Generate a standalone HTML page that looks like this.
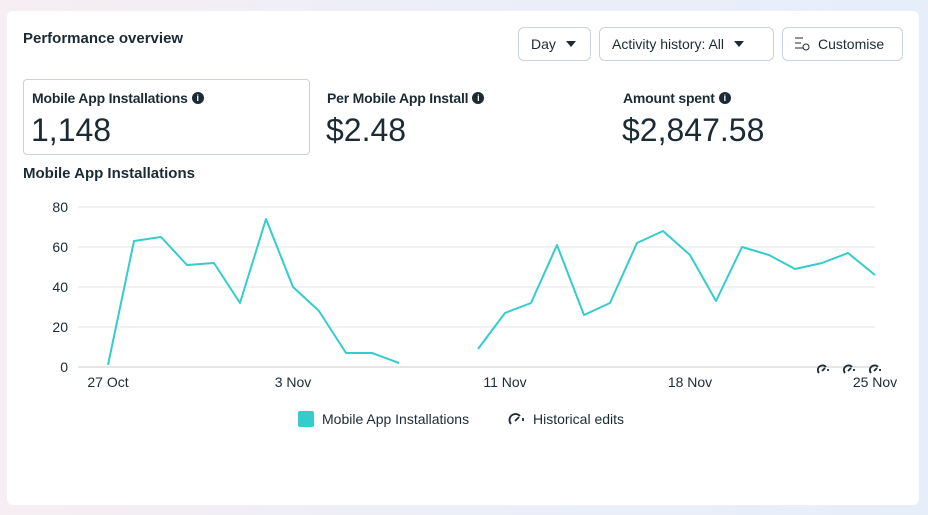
<!DOCTYPE html>
<html><head><meta charset="utf-8"><style>
body{margin:0;width:928px;height:515px;background:linear-gradient(90deg,#f6eef2,#eceef8 50%,#e6eefa);font-family:"Liberation Sans",sans-serif;color:#1c2b33;position:relative;overflow:hidden}
.card{position:absolute;left:7px;top:11px;width:912px;height:494px;background:#fff;border-radius:6px}
.t{position:absolute;font-weight:bold;font-size:15px}
.btn{position:absolute;top:27px;height:34px;border:1px solid #cbd2d9;border-radius:6px;box-sizing:border-box;font-size:14px;line-height:32px;padding:0 12px}
.tri{display:inline-block;width:0;height:0;border-left:5px solid transparent;border-right:5px solid transparent;border-top:6px solid #1c2b33;margin-left:10px;vertical-align:2px}
.lab{position:absolute;font-size:14px;font-weight:bold;letter-spacing:-0.2px}
.big{position:absolute;font-size:32px}
.i{display:inline-block;width:12px;height:12px;border-radius:50%;background:#1c2b33;color:#fff;font-size:9px;line-height:12px;text-align:center;font-weight:bold;vertical-align:middle;margin-left:4px;position:relative;top:-1px}
svg{position:absolute;left:0;top:0}
</style></head><body>
<div class="card"></div>
<div class="t" style="left:23px;top:30px">Performance overview</div>
<div class="btn" style="left:518px;width:73px">Day<span class="tri"></span></div>
<div class="btn" style="left:599px;width:175px">Activity history: All<span class="tri"></span></div>
<div class="btn" style="left:782px;width:121px;padding-left:35px">Customise</div>
<div style="position:absolute;left:23px;top:79px;width:287px;height:76px;border:1px solid #cbd2d9;border-radius:4px;box-sizing:border-box"></div>
<div class="lab" style="left:32px;top:90px">Mobile App Installations<span class="i">i</span></div>
<div class="big" style="left:31px;top:112px">1,148</div>
<div class="lab" style="left:327px;top:90px">Per Mobile App Install<span class="i">i</span></div>
<div class="big" style="left:326px;top:112px">$2.48</div>
<div class="lab" style="left:623px;top:90px">Amount spent<span class="i">i</span></div>
<div class="big" style="left:622px;top:112px">$2,847.58</div>
<div class="t" style="left:23px;top:165px">Mobile App Installations</div>
<svg width="928" height="515" font-family="Liberation Sans, sans-serif" font-size="14" fill="#1c2b33">
<g fill="none" stroke="#1c2b33" stroke-width="1"><path d="M795 38h8M795 43h6M795 48h8"/><circle cx="806" cy="47" r="3"/></g>
<g stroke="#e4e6eb"><line x1="78" y1="207" x2="875" y2="207"/><line x1="78" y1="247" x2="875" y2="247"/><line x1="78" y1="287" x2="875" y2="287"/><line x1="78" y1="327" x2="875" y2="327"/><line x1="78" y1="367" x2="875" y2="367" stroke="#ccc"/></g>
<g text-anchor="end"><text x="68" y="212">80</text><text x="68" y="252">60</text><text x="68" y="292">40</text><text x="68" y="332">20</text><text x="68" y="372">0</text></g>
<g text-anchor="middle"><text x="108" y="387">27 Oct</text><text x="293" y="387">3 Nov</text><text x="505" y="387">11 Nov</text><text x="690" y="387">18 Nov</text><text x="875" y="387">25 Nov</text></g>
<g fill="none" stroke="#35cccc" stroke-width="2" stroke-linejoin="round">
<polyline points="108,365 134,241 161,237 187,265 214,263 240,303 266,219 293,287 319,311 346,353 372,353 399,363"/>
<polyline points="478,349 505,313 531,303 557,245 584,315 610,303 637,243 663,231 690,255 716,301 742,247 769,255 795,269 822,263 848,253 875,275"/>
</g>
<g fill="none" stroke="#1c2b33" stroke-width="1.8">
<path d="M819 373a4.5 4.5 0 0 1 7-6M822 371l3-3M828 369l0 2"/>
<path d="M845 373a4.5 4.5 0 0 1 7-6M848 371l3-3M854 369l0 2"/>
<path d="M871 373a4.5 4.5 0 0 1 7-6M874 371l3-3M880 369l0 2"/>
<path d="M511 424a6 6 0 0 1 9-8M515 421l4-4M523 418l0 3"/>
</g>
<rect x="298" y="411" width="16" height="16" rx="2" fill="#35cccc"/>
<text x="322" y="424">Mobile App Installations</text>
<text x="533" y="424">Historical edits</text>
</svg>
</body></html>
